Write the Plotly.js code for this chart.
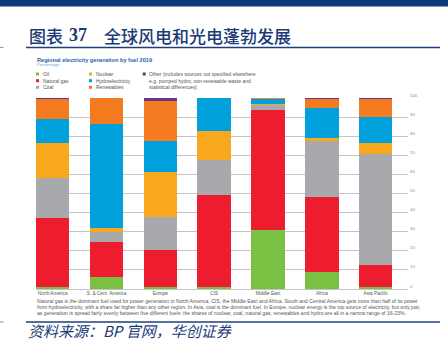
<!DOCTYPE html>
<html>
<head>
<meta charset="utf-8">
<script src="https://cdn.plot.ly/plotly-3.0.1.min.js"></script>
<style>html,body{margin:0;padding:0;background:#fff;}#chart{width:448px;height:342px;}</style>
</head>
<body>
<div id="chart"></div>
<script>
// ---- data ----
const regions = ['North America', 'S. & Cent. America', 'Europe', 'CIS', 'Middle East', 'Africa', 'Asia Pacific'];
const oil        = [1.0, 6.2, 1.2, 0.8, 31.0, 9.1, 1.0];
const naturalGas = [36.3, 18.4, 19.1, 48.4, 62.9, 39.2, 11.6];
const coal       = [20.9, 5.4, 17.4, 18.3, 2.4, 29.4, 58.3];
const nuclear    = [18.0, 2.1, 23.5, 15.2, 0.3, 1.3, 5.3];
const hydro      = [12.7, 54.1, 16.2, 17.1, 2.9, 15.8, 13.9];
const renewables = [10.4, 13.8, 21.0, 0.2, 0.5, 4.9, 9.2];
const other      = [0.7, 0.0, 1.6, 0.0, 0.0, 0.3, 0.7];
const yTicks = [0, 10, 20, 30, 40, 50, 60, 70, 80, 90, 100];
const seriesNames = ['Oil', 'Natural gas', 'Coal', 'Nuclear', 'Hydroelectricity', 'Renewables', 'Other'];
const legendCol3 = ['Other (includes sources not specified elsewhere', 'e.g. pumped hydro, non-renewable waste and', 'statistical differences)'];
const noteLines = [
  'Natural gas is the dominant fuel used for power generation in North America, CIS, the Middle East and Africa. South and Central America gets more than half of its power',
  'from hydroelectricity, with a share far higher than any other region. In Asia, coal is the dominant fuel. In Europe, nuclear energy is the top source of electricity, but only just,',
  'as generation is spread fairly evenly between five different fuels: the shares of nuclear, coal, natural gas, renewables and hydro are all in a narrow range of 16-23%.'
];

// ---- styles ----
const colors = ['#7ac143', '#ed1c2e', '#a7a9ac', '#f8a81d', '#00a0dc', '#f47b20', '#6a3391'];
const values = [oil, naturalGas, coal, nuclear, hydro, renewables, other];

const W = 448, H = 342, mL = 36, mR = 40, mT = 98, mB = 53;
const pw = W - mL - mR, ph = H - mT - mB;
const px = x => (x - mL) / pw;
const py = y => (H - mB - y) / ph;

const traces = values.map((v, i) => ({
  type: 'bar', x: regions, y: v, name: seriesNames[i],
  marker: {color: colors[i], line: {width: 0}},
  showlegend: false, hoverinfo: 'skip'
}));

const sans = 'Liberation Sans, Arial, sans-serif';
const cjk = 'Noto Sans CJK SC, sans-serif';
const annotations = [];
const shapes = [];

// top band
shapes.push({type: 'rect', xref: 'paper', yref: 'paper', x0: px(0), x1: px(W), y0: py(0), y1: py(6.5), fillcolor: '#0b3b7d', line: {width: 0}});
// title underline
shapes.push({type: 'line', xref: 'paper', yref: 'paper', x0: px(26), x1: px(440), y0: py(47.5), y1: py(47.5), line: {color: '#1d3f7f', width: 1.6}});
shapes.push({type: 'line', xref: 'paper', yref: 'paper', x0: px(0), x1: px(3.5), y0: py(47.5), y1: py(47.5), line: {color: '#8a9bb8', width: 1.2}});
// bottom line
shapes.push({type: 'line', xref: 'paper', yref: 'paper', x0: px(26), x1: px(440), y0: py(322), y1: py(322), line: {color: '#1d3f7f', width: 1.6}});
shapes.push({type: 'line', xref: 'paper', yref: 'paper', x0: px(0), x1: px(3.5), y0: py(322), y1: py(322), line: {color: '#8a9bb8', width: 1.2}});

function txt(text, x, y, size, color, opts) {
  annotations.push(Object.assign({
    text: text, xref: 'paper', yref: 'paper', x: px(x), y: py(y),
    xanchor: 'left', yanchor: 'middle', showarrow: false,
    font: {family: sans, size: size, color: color}
  }, opts || {}));
}

// Chinese title
txt('图表', 26.5, 35, 17, '#1b3a78', {font: {family: cjk, size: 17, color: '#1b3a78', weight: 500}});
txt('37', 67, 35, 17.5, '#1b3a78', {font: {family: 'Liberation Serif, serif', size: 18, color: '#1b3a78', weight: 'bold'}});
txt('全球风电和光电蓬勃发展', 102, 35, 17, '#1b3a78', {font: {family: cjk, size: 17, color: '#1b3a78', weight: 500}});

// chart title
txt('<b>Regional electricity generation by fuel 2019</b>', 35, 59.5, 5.6, '#1e62ad');
txt('Percentage', 35, 64.5, 4.4, '#6f9fd3');

// legend
const colX = [36, 89, 142.7];
const rowY = [74, 80.7, 87.3];
for (let i = 0; i < 7; i++) {
  const col = Math.floor(i / 3), row = i % 3;
  const x = colX[col], y = rowY[row];
  shapes.push({type: 'rect', xref: 'paper', yref: 'paper', x0: px(x), x1: px(x + 3), y0: py(y + 1.5), y1: py(y - 1.5), fillcolor: colors[i], line: {width: 0}});
  if (col < 2) txt(seriesNames[i], x + 4.6, y, 5, '#555');
}
legendCol3.forEach((t, j) => txt(t, colX[2] + 4.6, rowY[j], 5, '#555'));

// note text
noteLines.forEach((t, j) => txt(t, 35, 301 + j * 6, 5.1, '#555'));

// footnote
txt('资料来源：BP 官网，华创证券', 27, 341.5, 15, '#1b3a78', {yanchor: 'bottom', borderpad: 0, font: {family: cjk, size: 15, color: '#1b3a78', style: 'italic'}});

const layout = {
  width: W, height: H,
  margin: {l: mL, r: mR, t: mT, b: mB, pad: 0},
  paper_bgcolor: '#fff', plot_bgcolor: '#fff',
  barmode: 'stack', bargap: 0.377,
  showlegend: false,
  xaxis: {
    range: [-0.31, 6.60], showgrid: false, zeroline: false, showline: false,
    ticks: '', ticklabelstandoff: 0,
    tickfont: {family: sans, size: 4.7, color: '#555'}, fixedrange: true
  },
  yaxis: {
    range: [0, 100], side: 'right', tickvals: yTicks, ticktext: yTicks.map(String),
    showgrid: true, gridcolor: '#c4c4c4', gridwidth: 1,
    zeroline: true, zerolinecolor: '#c4c4c4', zerolinewidth: 1,
    showline: false, ticks: '', ticklabelstandoff: 1, ticklabelshift: -3,
    tickfont: {family: sans, size: 4.3, color: '#888'}, fixedrange: true
  },
  shapes: shapes,
  annotations: annotations
};

Plotly.newPlot('chart', traces, layout, {displayModeBar: false, staticPlot: true});
</script>
</body>
</html>
